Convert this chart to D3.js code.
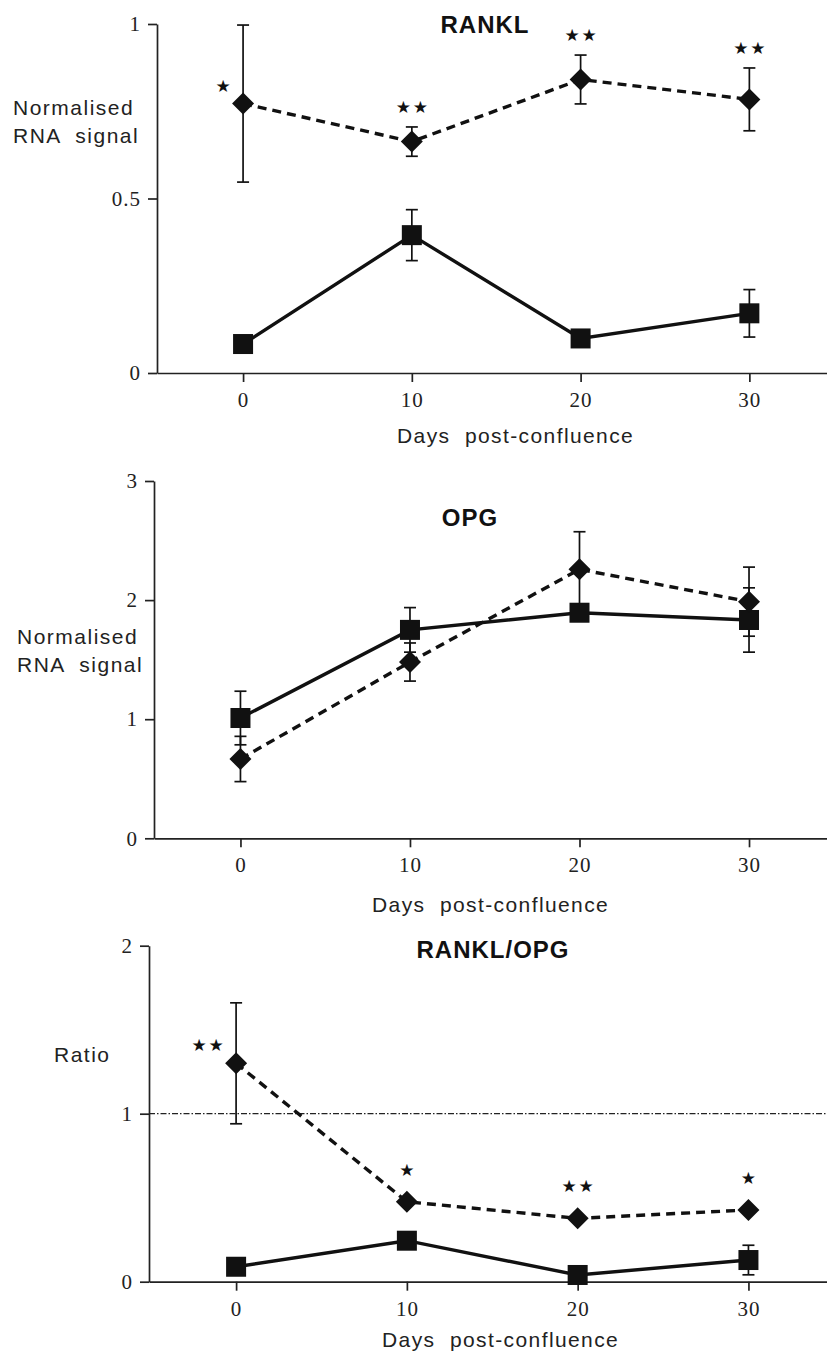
<!DOCTYPE html>
<html>
<head>
<meta charset="utf-8">
<script src="https://cdn.jsdelivr.net/npm/d3@7"></script>
<style>
  body { margin: 0; background: #fff; }
</style>
</head>
<body>
<svg id="chart"></svg>
<script>
// Days post-confluence
const days = [0, 10, 20, 30];
const xTicks = [0, 10, 20, 30];

// RANKL panel
const ranklSquare = [0.083, 0.395, 0.099, 0.171];
const ranklSquareErr = [0, 0.073, 0, 0.068];
const ranklDiamond = [0.772, 0.663, 0.841, 0.784];
const ranklDiamondErr = [0.225, 0.042, 0.07, 0.09];
const ranklStars = ["*", "**", "**", "**"];
const ranklTicks = [0, 0.5, 1];

// OPG panel
const opgSquare = [1.01, 1.75, 1.894, 1.833];
const opgSquareErr = [0.225, 0.187, 0, 0.27];
const opgDiamond = [0.666, 1.48, 2.258, 1.987];
const opgDiamondErr = [0.19, 0.16, 0.316, 0.29];
const opgStars = ["", "", "", ""];
const opgTicks = [0, 1, 2, 3];

// RANKL/OPG ratio panel
const ratioSquare = [0.089, 0.244, 0.04, 0.129];
const ratioSquareErr = [0, 0, 0, 0.088];
const ratioDiamond = [1.30, 0.476, 0.377, 0.427];
const ratioDiamondErr = [0.36, 0, 0, 0];
const ratioStars = ["**", "*", "**", "*"];
const ratioTicks = [0, 1, 2];
const ratioRefLine = 1;

const W = 827, H = 1352;
const sans = "'Liberation Sans', Arial, Helvetica, sans-serif";
const serif = "'Liberation Serif', 'Times New Roman', serif";
const ink = "#111";

const svg = d3.select("#chart").attr("width", W).attr("height", H);

// layout of each panel
const panels = [
  { title: "RANKL", titleX: 485, titleY: 33,
    left: 157, top: 24, bottom: 373, yMax: 1, yTicks: ranklTicks,
    yLabel: ["Normalised", "RNA  signal"], yLabelX: 13, yLabelY: 115,
    xLabelX: 397, xLabelY: 443,
    sq: ranklSquare, sqErr: ranklSquareErr, dm: ranklDiamond, dmErr: ranklDiamondErr,
    stars: ranklStars, ref: null },
  { title: "OPG", titleX: 470, titleY: 526,
    left: 154, top: 481, bottom: 838.3, yMax: 3, yTicks: opgTicks,
    yLabel: ["Normalised", "RNA  signal"], yLabelX: 17, yLabelY: 644,
    xLabelX: 372, xLabelY: 912,
    sq: opgSquare, sqErr: opgSquareErr, dm: opgDiamond, dmErr: opgDiamondErr,
    stars: opgStars, ref: null },
  { title: "RANKL/OPG", titleX: 493, titleY: 958,
    left: 149, top: 945.7, bottom: 1281.7, yMax: 2, yTicks: ratioTicks,
    yLabel: ["Ratio"], yLabelX: 54, yLabelY: 1062,
    xLabelX: 382, xLabelY: 1347,
    sq: ratioSquare, sqErr: ratioSquareErr, dm: ratioDiamond, dmErr: ratioDiamondErr,
    stars: ratioStars, ref: ratioRefLine }
];

panels.forEach(p => {
  const g = svg.append("g");

  const x = d3.scaleLinear().domain([-5.1, 34.6]).range([p.left, W]);
  const y = d3.scaleLinear().domain([0, p.yMax]).range([p.bottom, p.top]);

  // axes
  const xAxis = g.append("g")
    .attr("transform", `translate(0,${p.bottom})`)
    .call(d3.axisBottom(x).tickValues(xTicks).tickSize(9).tickSizeOuter(0).tickPadding(10));
  const yAxis = g.append("g")
    .attr("transform", `translate(${p.left},0)`)
    .call(d3.axisLeft(y).tickValues(p.yTicks).tickSize(9).tickSizeOuter(0).tickPadding(7)
      .tickFormat(d3.format("~g")));

  [xAxis, yAxis].forEach(a => {
    a.select(".domain").attr("stroke", "#222").attr("stroke-width", 1.7);
    a.selectAll(".tick line").attr("stroke", "#222").attr("stroke-width", 1.7);
    a.selectAll(".tick text")
      .attr("fill", "#222")
      .style("font-family", serif)
      .style("font-size", "21px")
      .style("letter-spacing", "1px");
  });

  // reference line (ratio = 1)
  if (p.ref !== null) {
    g.append("line")
      .attr("x1", p.left).attr("x2", W)
      .attr("y1", y(p.ref)).attr("y2", y(p.ref))
      .attr("stroke", "#222").attr("stroke-width", 1.3)
      .attr("stroke-dasharray", "6,2,1.5,2");
  }

  const sqData = days.map((d, i) => ({ day: d, v: p.sq[i], e: p.sqErr[i] }));
  const dmData = days.map((d, i) => ({ day: d, v: p.dm[i], e: p.dmErr[i], star: p.stars[i] }));

  const line = d3.line().x(d => x(d.day)).y(d => y(d.v));

  // error bars (under the markers)
  const drawErr = data => {
    const eb = g.append("g").attr("stroke", ink).attr("stroke-width", 1.7);
    data.filter(d => d.e > 0).forEach(d => {
      const cx = x(d.day), y1 = y(d.v + d.e), y2 = y(d.v - d.e);
      eb.append("line").attr("x1", cx).attr("x2", cx).attr("y1", y1).attr("y2", y2);
      eb.append("line").attr("x1", cx - 6).attr("x2", cx + 6).attr("y1", y1).attr("y2", y1);
      eb.append("line").attr("x1", cx - 6).attr("x2", cx + 6).attr("y1", y2).attr("y2", y2);
    });
  };
  drawErr(sqData);
  drawErr(dmData);

  // lines
  g.append("path").datum(sqData)
    .attr("d", line).attr("fill", "none")
    .attr("stroke", ink).attr("stroke-width", 3.4);
  g.append("path").datum(dmData)
    .attr("d", line).attr("fill", "none")
    .attr("stroke", ink).attr("stroke-width", 3.4)
    .attr("stroke-dasharray", "9,6");

  // markers
  g.selectAll(".sq").data(sqData).enter().append("rect")
    .attr("x", d => x(d.day) - 10).attr("y", d => y(d.v) - 10)
    .attr("width", 20).attr("height", 20).attr("fill", ink);
  g.selectAll(".dm").data(dmData).enter().append("path")
    .attr("d", d => {
      const cx = x(d.day), cy = y(d.v), r = 11;
      return `M${cx},${cy - r}L${cx + r},${cy}L${cx},${cy + r}L${cx - r},${cy}Z`;
    })
    .attr("fill", ink);

  // significance stars
  dmData.filter(d => d.star).forEach(d => {
    const n = d.star.length;
    let cx, cy;
    if (d.e > 0.15 * p.yMax) {
      // large error bar: stars sit to the left of the point
      cx = x(d.day) - 20 - (n - 1) * 8.5;
      cy = y(d.v) - 18;
    } else if (d.e > 0) {
      cx = x(d.day);
      cy = y(d.v + d.e) - 20;
    } else {
      cx = x(d.day);
      cy = y(d.v) - 32;
    }
    for (let k = 0; k < n; k++) {
      g.append("text")
        .attr("x", cx + (k - (n - 1) / 2) * 17)
        .attr("y", cy)
        .attr("text-anchor", "middle")
        .attr("dominant-baseline", "central")
        .style("font-family", "'DejaVu Sans', sans-serif")
        .style("font-size", "17px")
        .attr("fill", ink)
        .text("\u2605");
    }
  });

  // title
  g.append("text")
    .attr("x", p.titleX).attr("y", p.titleY)
    .attr("text-anchor", "middle")
    .style("font-family", sans).style("font-weight", "bold")
    .style("font-size", "24px").style("letter-spacing", "1px")
    .attr("fill", ink)
    .text(p.title);

  // y label
  p.yLabel.forEach((t, i) => {
    g.append("text")
      .attr("x", p.yLabelX).attr("y", p.yLabelY + i * 28)
      .style("font-family", sans).style("font-size", "21px")
      .style("letter-spacing", "1.5px").style("white-space", "pre")
      .attr("fill", "#222")
      .text(t);
  });

  // x label
  g.append("text")
    .attr("x", p.xLabelX).attr("y", p.xLabelY)
    .style("font-family", sans).style("font-size", "21px")
    .style("letter-spacing", "1.4px").style("white-space", "pre")
    .attr("fill", "#222")
    .text("Days  post-confluence");
});
</script>
</body>
</html>
